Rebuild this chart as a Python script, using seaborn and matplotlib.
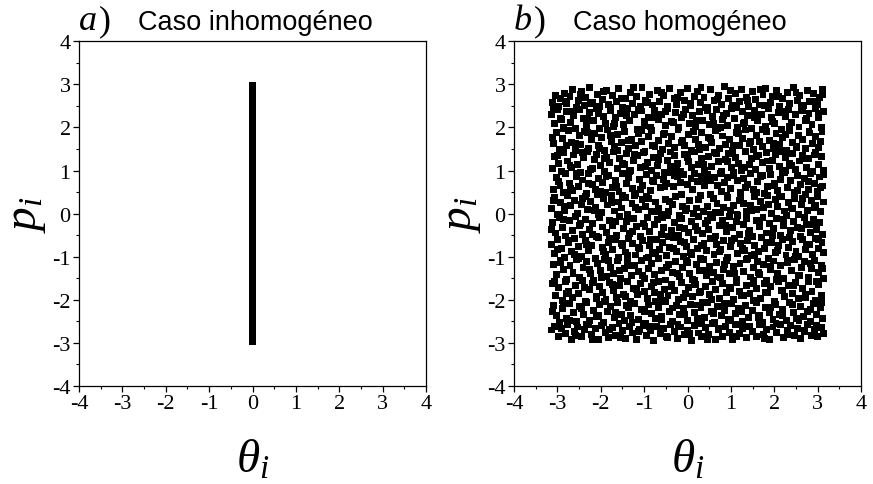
import matplotlib
matplotlib.use("Agg")
import matplotlib.pyplot as plt
import seaborn as sns
import pandas as pd
from matplotlib.ticker import MultipleLocator

# --- Data ---

# Panel a: all oscillators at theta = 0, momenta spread over [-3, 3]
p_a = [-2.97, -2.91, -2.84, -2.78, -2.70, -2.63, -2.57, -2.49, -2.42, -2.36,
       -2.28, -2.21, -2.15, -2.07, -2.00, -1.93, -1.86, -1.79, -1.72, -1.65,
       -1.58, -1.50, -1.44, -1.37, -1.29, -1.22, -1.15, -1.08, -1.01, -0.94,
       -0.87, -0.80, -0.72, -0.66, -0.58, -0.51, -0.44, -0.37, -0.29, -0.22,
       -0.15, -0.08, -0.01, 0.06, 0.13, 0.20, 0.27, 0.35, 0.42, 0.49,
       0.56, 0.63, 0.70, 0.77, 0.85, 0.92, 0.99, 1.06, 1.13, 1.20,
       1.27, 1.35, 1.42, 1.49, 1.56, 1.63, 1.70, 1.77, 1.84, 1.92,
       1.99, 2.06, 2.13, 2.20, 2.27, 2.34, 2.42, 2.49, 2.56, 2.63,
       2.70, 2.77, 2.84, 2.91, 2.97]
theta_a = [0.0] * len(p_a)

# Panel b: points in bands of p, as (theta, p)
band_a = [(-3.11,2.58),(-3.05,2.74),(-2.97,2.49),(-2.93,2.66),(-2.84,2.79),(-2.79,2.55),(-2.71,2.71),(-2.66,2.88),(-2.57,2.47),(-2.52,2.62),(-2.44,2.83),(-2.38,2.51),(-2.35,2.69),(-2.26,2.92),(-2.19,2.57),(-2.08,2.76),(-2.04,2.48),(-1.97,2.64),(-1.86,2.86),(-1.82,2.53),(-1.74,2.73),(-1.63,2.60),(-1.59,2.90),(-1.50,2.46),(-1.43,2.68),(-1.31,2.81),(-1.27,2.55),(-1.18,2.72),(-1.09,2.49),(-1.05,2.93),(-0.96,2.63),(-0.87,2.77),(-0.81,2.52),(-0.70,2.85),(-0.64,2.61),(-0.55,2.74),(-0.47,2.48),(-0.42,2.90),(-0.31,2.67),(-0.25,2.54),(-0.16,2.80),(-0.08,2.63),(0.01,2.91),(0.07,2.50),(0.15,2.72),(0.24,2.84),(0.29,2.58),(0.38,2.69),(0.47,2.47),(0.53,2.88),(0.61,2.62),(0.72,2.75),(0.78,2.53),(0.86,2.94),(0.95,2.66),(1.03,2.51),(1.10,2.79),(1.19,2.60),(1.24,2.87),(1.35,2.70),(1.41,2.48),(1.50,2.83),(1.57,2.64),(1.66,2.52),(1.74,2.76),(1.80,2.91),(1.91,2.58),(1.96,2.71),(2.05,2.86),(2.13,2.49),(2.20,2.67),(2.30,2.80),(2.36,2.55),(2.44,2.92),(2.53,2.63),(2.59,2.74),(2.68,2.50),(2.77,2.85),(2.82,2.61),(2.91,2.78),(2.99,2.53),(3.04,2.69),(3.11,2.88)]
band_b = [(-3.13,2.31),(-3.07,2.08),(-3.00,2.42),(-2.91,2.19),(-2.87,1.99),(-2.78,2.36),(-2.70,2.12),(-2.62,2.27),(-2.58,1.97),(-2.49,2.41),(-2.41,2.21),(-2.32,2.05),(-2.27,2.34),(-2.16,2.15),(-2.11,2.44),(-2.02,1.98),(-1.94,2.26),(-1.89,2.10),(-1.78,2.39),(-1.71,2.02),(-1.66,2.23),(-1.55,2.33),(-1.47,2.07),(-1.39,2.43),(-1.34,2.17),(-1.22,2.29),(-1.15,1.96),(-1.07,2.38),(-1.00,2.13),(-0.91,2.24),(-0.85,2.01),(-0.77,2.40),(-0.68,2.18),(-0.60,2.30),(-0.51,2.04),(-0.45,2.44),(-0.36,2.14),(-0.28,2.35),(-0.20,1.99),(-0.13,2.22),(-0.05,2.42),(0.04,2.09),(0.11,2.28),(0.19,2.02),(0.27,2.37),(0.34,2.16),(0.42,2.45),(0.50,2.06),(0.57,2.25),(0.66,2.41),(0.70,1.97),(0.80,2.19),(0.89,2.32),(0.93,2.05),(1.01,2.43),(1.08,2.20),(1.16,2.00),(1.26,2.36),(1.32,2.12),(1.39,2.27),(1.47,1.98),(1.55,2.39),(1.62,2.15),(1.70,2.31),(1.79,2.03),(1.86,2.44),(1.93,2.22),(2.01,2.08),(2.09,2.35),(2.17,1.96),(2.25,2.26),(2.33,2.42),(2.40,2.11),(2.48,2.29),(2.57,2.01),(2.64,2.38),(2.72,2.17),(2.80,2.33),(2.87,2.06),(2.95,2.43),(3.02,2.23),(3.09,1.99),(3.13,2.37)]
band_c = [(-3.10,1.62),(-3.03,1.88),(-2.95,1.49),(-2.89,1.74),(-2.80,1.57),(-2.74,1.93),(-2.67,1.66),(-2.59,1.46),(-2.50,1.81),(-2.46,1.60),(-2.37,1.91),(-2.29,1.52),(-2.22,1.71),(-2.14,1.85),(-2.06,1.58),(-1.99,1.77),(-1.91,1.47),(-1.84,1.94),(-1.76,1.68),(-1.69,1.55),(-1.61,1.83),(-1.53,1.64),(-1.45,1.90),(-1.37,1.50),(-1.29,1.73),(-1.21,1.59),(-1.13,1.86),(-1.06,1.67),(-0.98,1.45),(-0.90,1.79),(-0.83,1.92),(-0.75,1.56),(-0.66,1.70),(-0.58,1.48),(-0.53,1.87),(-0.43,1.63),(-0.37,1.78),(-0.29,1.53),(-0.22,1.95),(-0.12,1.69),(-0.06,1.57),(0.03,1.84),(0.10,1.46),(0.18,1.72),(0.26,1.61),(0.33,1.89),(0.41,1.54),(0.49,1.76),(0.56,1.65),(0.64,1.93),(0.73,1.51),(0.81,1.80),(0.87,1.60),(0.96,1.71),(1.04,1.47),(1.12,1.88),(1.20,1.58),(1.27,1.75),(1.34,1.94),(1.43,1.63),(1.51,1.49),(1.59,1.82),(1.65,1.67),(1.73,1.55),(1.82,1.90),(1.89,1.70),(1.97,1.52),(2.04,1.85),(2.12,1.61),(2.19,1.77),(2.28,1.46),(2.35,1.92),(2.42,1.66),(2.51,1.56),(2.56,1.81),(2.66,1.73),(2.73,1.50),(2.81,1.87),(2.89,1.62),(2.96,1.78),(3.03,1.54),(3.10,1.91)]
band_d = [(-3.12,1.05),(-3.06,1.33),(-2.98,1.17),(-2.90,0.98),(-2.85,1.41),(-2.76,1.22),(-2.68,1.08),(-2.63,1.36),(-2.53,1.13),(-2.47,0.96),(-2.39,1.29),(-2.30,1.44),(-2.24,1.02),(-2.15,1.25),(-2.09,1.38),(-2.00,1.11),(-1.92,0.97),(-1.87,1.31),(-1.79,1.19),(-1.70,1.43),(-1.62,1.04),(-1.56,1.27),(-1.46,1.14),(-1.40,1.39),(-1.32,0.99),(-1.24,1.23),(-1.16,1.35),(-1.08,1.07),(-1.01,1.42),(-0.93,1.18),(-0.84,1.01),(-0.79,1.30),(-0.69,1.12),(-0.62,1.40),(-0.54,0.96),(-0.46,1.24),(-0.39,1.09),(-0.30,1.34),(-0.23,1.16),(-0.15,0.98),(-0.07,1.37),(0.02,1.20),(0.09,1.06),(0.17,1.43),(0.25,1.15),(0.32,1.28),(0.40,1.00),(0.48,1.33),(0.55,1.10),(0.63,1.41),(0.71,1.21),(0.79,0.97),(0.88,1.26),(0.94,1.39),(1.02,1.08),(1.11,1.31),(1.18,1.17),(1.25,0.99),(1.33,1.44),(1.42,1.13),(1.48,1.27),(1.57,1.03),(1.64,1.36),(1.72,1.19),(1.81,1.42),(1.88,1.05),(1.95,1.24),(2.03,1.38),(2.11,1.10),(2.18,0.96),(2.26,1.30),(2.34,1.16),(2.43,1.40),(2.49,1.02),(2.58,1.22),(2.65,1.35),(2.75,1.07),(2.79,1.28),(2.88,0.98),(2.94,1.43),(3.01,1.14),(3.08,1.32),(3.14,1.01)]
band_e = [(-3.09,0.57),(-3.01,0.83),(-2.94,0.66),(-2.86,0.48),(-2.81,0.92),(-2.72,0.71),(-2.64,0.53),(-2.56,0.87),(-2.51,0.62),(-2.42,0.78),(-2.34,0.46),(-2.28,0.94),(-2.20,0.67),(-2.12,0.55),(-2.05,0.81),(-1.96,0.73),(-1.90,0.49),(-1.81,0.89),(-1.73,0.60),(-1.67,0.76),(-1.58,0.52),(-1.51,0.93),(-1.41,0.69),(-1.35,0.84),(-1.27,0.58),(-1.19,0.47),(-1.10,0.79),(-1.03,0.65),(-0.94,0.91),(-0.86,0.54),(-0.78,0.74),(-0.71,0.88),(-0.63,0.61),(-0.56,0.80),(-0.48,0.70),(-0.40,0.95),(-0.33,0.63),(-0.24,0.85),(-0.17,0.72),(-0.09,0.90),(0.00,0.68),(0.08,0.82),(0.16,0.93),(0.23,0.75),(0.31,0.86),(0.39,0.64),(0.46,0.91),(0.54,0.77),(0.62,0.84),(0.69,0.66),(0.77,0.94),(0.85,0.72),(0.92,0.83),(1.00,0.59),(1.07,0.89),(1.15,0.76),(1.23,0.50),(1.30,0.81),(1.38,0.68),(1.46,0.92),(1.53,0.56),(1.61,0.74),(1.68,0.86),(1.77,0.47),(1.84,0.63),(1.92,0.90),(2.00,0.71),(2.07,0.53),(2.15,0.80),(2.23,0.95),(2.31,0.60),(2.38,0.77),(2.46,0.49),(2.54,0.88),(2.61,0.67),(2.70,0.82),(2.78,0.55),(2.84,0.93),(2.92,0.70),(2.99,0.51),(3.05,0.85),(3.12,0.64)]
band_f = [(-3.13,0.12),(-3.06,0.38),(-2.99,-0.02),(-2.92,0.25),(-2.83,0.07),(-2.77,0.43),(-2.69,0.18),(-2.60,0.31),(-2.54,0.01),(-2.45,0.22),(-2.36,0.40),(-2.31,0.09),(-2.23,0.28),(-2.13,0.15),(-2.07,0.44),(-1.98,0.03),(-1.93,0.34),(-1.85,0.20),(-1.76,0.41),(-1.68,0.06),(-1.60,0.27),(-1.52,0.13),(-1.44,0.37),(-1.38,-0.03),(-1.28,0.23),(-1.22,0.42),(-1.14,0.10),(-1.05,0.32),(-0.97,0.16),(-0.89,0.36),(-0.82,0.04),(-0.74,0.27),(-0.67,0.12),(-0.59,-0.01),(-0.50,0.33),(-0.44,0.05),(-0.35,0.21),(-0.27,0.40),(-0.19,-0.04),(-0.11,0.17),(-0.04,0.06),(0.05,0.30),(0.13,0.00),(0.21,0.13),(0.30,0.42),(0.37,0.04),(0.45,0.16),(0.52,-0.02),(0.60,0.35),(0.68,0.23),(0.75,0.03),(0.83,0.15),(0.91,0.41),(0.98,0.07),(1.06,0.19),(1.14,-0.03),(1.22,0.34),(1.29,0.24),(1.37,0.05),(1.45,0.18),(1.54,0.39),(1.60,0.09),(1.69,0.29),(1.76,0.14),(1.85,0.43),(1.93,0.01),(2.02,0.33),(2.08,0.17),(2.16,0.40),(2.24,0.06),(2.32,0.26),(2.41,0.11),(2.47,0.36),(2.55,-0.01),(2.63,0.21),(2.71,0.44),(2.76,0.08),(2.86,0.30),(2.93,0.14),(3.00,0.39),(3.07,0.04),(3.13,0.27)]
band_g = [(-3.11,-0.21),(-3.04,-0.45),(-2.96,-0.10),(-2.88,-0.33),(-2.82,-0.52),(-2.73,-0.17),(-2.66,-0.40),(-2.58,-0.07),(-2.48,-0.28),(-2.43,-0.49),(-2.35,-0.13),(-2.26,-0.37),(-2.18,-0.24),(-2.10,-0.54),(-2.03,-0.09),(-1.95,-0.31),(-1.86,-0.44),(-1.80,-0.16),(-1.72,-0.27),(-1.64,-0.50),(-1.57,-0.06),(-1.48,-0.35),(-1.40,-0.19),(-1.33,-0.46),(-1.25,-0.11),(-1.17,-0.30),(-1.09,-0.53),(-1.02,-0.22),(-0.92,-0.08),(-0.87,-0.41),(-0.77,-0.26),(-0.70,-0.14),(-0.61,-0.48),(-0.55,-0.32),(-0.46,-0.05),(-0.38,-0.39),(-0.31,-0.20),(-0.21,-0.51),(-0.14,-0.12),(-0.06,-0.34),(0.03,-0.43),(0.10,-0.18),(0.19,-0.29),(0.26,-0.06),(0.35,-0.47),(0.41,-0.23),(0.49,-0.36),(0.58,-0.10),(0.65,-0.52),(0.73,-0.27),(0.81,-0.15),(0.89,-0.42),(0.96,-0.07),(1.04,-0.33),(1.12,-0.19),(1.19,-0.49),(1.28,-0.25),(1.35,-0.11),(1.43,-0.38),(1.50,-0.54),(1.58,-0.16),(1.66,-0.30),(1.74,-0.08),(1.82,-0.45),(1.89,-0.22),(1.98,-0.35),(2.05,-0.12),(2.14,-0.50),(2.21,-0.28),(2.29,-0.05),(2.37,-0.40),(2.44,-0.18),(2.53,-0.32),(2.60,-0.53),(2.69,-0.09),(2.75,-0.26),(2.84,-0.44),(2.90,-0.14),(2.98,-0.37),(3.05,-0.20),(3.11,-0.48)]
band_h = [(-3.14,-0.71),(-3.07,-0.93),(-2.99,-0.60),(-2.91,-0.82),(-2.84,-1.02),(-2.75,-0.67),(-2.67,-0.88),(-2.61,-0.58),(-2.52,-0.77),(-2.45,-0.99),(-2.36,-0.63),(-2.29,-0.85),(-2.21,-0.73),(-2.12,-1.04),(-2.06,-0.56),(-1.97,-0.79),(-1.89,-0.94),(-1.83,-0.66),(-1.74,-0.84),(-1.66,-0.61),(-1.59,-1.01),(-1.50,-0.75),(-1.42,-0.89),(-1.36,-0.57),(-1.26,-0.70),(-1.20,-0.96),(-1.11,-0.81),(-1.03,-0.62),(-0.95,-1.03),(-0.88,-0.74),(-0.80,-0.90),(-0.72,-0.59),(-0.64,-0.83),(-0.57,-0.68),(-0.49,-0.97),(-0.41,-0.78),(-0.32,-0.55),(-0.25,-0.87),(-0.17,-0.65),(-0.10,-1.00),(-0.02,-0.76),(0.06,-0.91),(0.14,-0.60),(0.22,-0.80),(0.29,-1.03),(0.38,-0.69),(0.44,-0.86),(0.53,-0.57),(0.61,-0.95),(0.67,-0.72),(0.76,-0.84),(0.84,-0.63),(0.92,-1.01),(0.99,-0.77),(1.08,-0.58),(1.16,-0.92),(1.23,-0.70),(1.31,-0.85),(1.39,-0.62),(1.47,-0.98),(1.55,-0.74),(1.63,-0.88),(1.71,-0.56),(1.78,-0.81),(1.87,-1.04),(1.94,-0.67),(2.02,-0.90),(2.10,-0.73),(2.18,-0.59),(2.27,-0.96),(2.33,-0.79),(2.42,-0.64),(2.50,-0.87),(2.57,-1.00),(2.66,-0.61),(2.73,-0.83),(2.81,-0.71),(2.88,-0.95),(2.96,-0.57),(3.03,-0.80),(3.10,-0.66)]
band_i = [(-3.09,-1.18),(-3.02,-1.42),(-2.94,-1.09),(-2.87,-1.30),(-2.79,-1.53),(-2.71,-1.21),(-2.64,-1.37),(-2.55,-1.07),(-2.50,-1.48),(-2.41,-1.26),(-2.33,-1.12),(-2.24,-1.40),(-2.17,-1.55),(-2.08,-1.16),(-2.01,-1.33),(-1.92,-1.06),(-1.87,-1.45),(-1.77,-1.24),(-1.70,-1.38),(-1.61,-1.10),(-1.54,-1.51),(-1.46,-1.28),(-1.38,-1.14),(-1.30,-1.43),(-1.23,-1.20),(-1.14,-1.35),(-1.06,-1.08),(-0.99,-1.50),(-0.90,-1.27),(-0.82,-1.16),(-0.76,-1.41),(-0.66,-1.05),(-0.60,-1.31),(-0.51,-1.54),(-0.43,-1.19),(-0.35,-1.36),(-0.28,-1.11),(-0.19,-1.46),(-0.12,-1.25),(-0.03,-1.08),(0.04,-1.39),(0.12,-1.52),(0.20,-1.17),(0.28,-1.32),(0.36,-1.06),(0.43,-1.44),(0.51,-1.22),(0.59,-1.37),(0.66,-1.13),(0.75,-1.49),(0.82,-1.29),(0.90,-1.09),(0.97,-1.40),(1.06,-1.23),(1.13,-1.53),(1.21,-1.15),(1.30,-1.34),(1.36,-1.07),(1.45,-1.47),(1.52,-1.26),(1.61,-1.11),(1.67,-1.42),(1.76,-1.19),(1.83,-1.55),(1.91,-1.30),(1.99,-1.10),(2.07,-1.38),(2.15,-1.21),(2.22,-1.50),(2.31,-1.14),(2.39,-1.33),(2.46,-1.06),(2.55,-1.44),(2.62,-1.24),(2.70,-1.12),(2.78,-1.47),(2.86,-1.28),(2.93,-1.09),(3.01,-1.36),(3.08,-1.20),(3.13,-1.51)]
band_j = [(-3.12,-1.63),(-3.05,-1.89),(-2.97,-1.71),(-2.89,-2.02),(-2.82,-1.58),(-2.74,-1.80),(-2.65,-1.95),(-2.59,-1.67),(-2.51,-1.85),(-2.43,-1.56),(-2.36,-2.04),(-2.27,-1.75),(-2.19,-1.61),(-2.11,-1.92),(-2.04,-1.70),(-1.95,-1.83),(-1.88,-2.00),(-1.79,-1.59),(-1.71,-1.78),(-1.63,-1.94),(-1.56,-1.66),(-1.47,-1.87),(-1.39,-1.57),(-1.32,-2.03),(-1.24,-1.73),(-1.15,-1.88),(-1.08,-1.62),(-1.00,-1.81),(-0.92,-1.97),(-0.84,-1.68),(-0.77,-1.84),(-0.68,-1.58),(-0.61,-2.01),(-0.53,-1.76),(-0.45,-1.90),(-0.36,-1.64),(-0.29,-1.79),(-0.20,-1.99),(-0.13,-1.60),(-0.05,-1.86),(0.02,-1.72),(0.11,-1.93),(0.18,-1.65),(0.27,-1.82),(0.34,-2.05),(0.42,-1.69),(0.50,-1.87),(0.57,-1.57),(0.65,-1.77),(0.74,-1.96),(0.80,-1.63),(0.89,-1.84),(0.97,-1.71),(1.05,-2.00),(1.12,-1.59),(1.20,-1.80),(1.29,-1.91),(1.37,-1.66),(1.44,-1.86),(1.53,-1.56),(1.60,-1.74),(1.69,-1.98),(1.77,-1.62),(1.85,-1.83),(1.92,-1.70),(2.01,-2.03),(2.09,-1.58),(2.17,-1.79),(2.24,-1.93),(2.32,-1.67),(2.41,-1.85),(2.48,-1.60),(2.56,-1.97),(2.64,-1.73),(2.72,-1.88),(2.79,-1.57),(2.87,-1.81),(2.95,-2.01),(3.03,-1.65),(3.09,-1.90)]
band_k = [(-3.10,-2.13),(-3.03,-2.37),(-2.95,-2.52),(-2.88,-2.20),(-2.80,-2.44),(-2.73,-2.08),(-2.63,-2.29),(-2.56,-2.50),(-2.49,-2.16),(-2.40,-2.34),(-2.34,-2.06),(-2.25,-2.47),(-2.16,-2.24),(-2.09,-2.39),(-2.02,-2.11),(-1.93,-2.53),(-1.85,-2.27),(-1.78,-2.15),(-1.69,-2.42),(-1.62,-2.07),(-1.53,-2.33),(-1.45,-2.49),(-1.37,-2.19),(-1.31,-2.36),(-1.22,-2.09),(-1.13,-2.45),(-1.07,-2.23),(-0.97,-2.54),(-0.91,-2.12),(-0.83,-2.31),(-0.74,-2.43),(-0.67,-2.17),(-0.59,-2.38),(-0.50,-2.05),(-0.42,-2.26),(-0.34,-2.51),(-0.26,-2.14),(-0.18,-2.35),(-0.09,-2.21),(-0.01,-2.48),(0.07,-2.10),(0.15,-2.30),(0.23,-2.44),(0.31,-2.18),(0.39,-2.40),(0.46,-2.06),(0.55,-2.28),(0.62,-2.52),(0.70,-2.16),(0.78,-2.37),(0.86,-2.24),(0.95,-2.46),(1.01,-2.08),(1.10,-2.32),(1.17,-2.19),(1.26,-2.50),(1.34,-2.13),(1.41,-2.41),(1.49,-2.25),(1.58,-2.07),(1.65,-2.36),(1.73,-2.53),(1.80,-2.17),(1.90,-2.29),(1.97,-2.45),(2.04,-2.11),(2.13,-2.34),(2.20,-2.22),(2.29,-2.49),(2.36,-2.06),(2.45,-2.30),(2.51,-2.43),(2.61,-2.15),(2.67,-2.38),(2.76,-2.26),(2.83,-2.51),(2.91,-2.09),(2.97,-2.33),(3.06,-2.18),(3.12,-2.44)]
band_l = [(-3.13,-2.70),(-3.06,-2.61),(-2.98,-2.84),(-2.90,-2.66),(-2.81,-2.78),(-2.76,-2.57),(-2.68,-2.91),(-2.60,-2.73),(-2.53,-2.63),(-2.44,-2.86),(-2.37,-2.69),(-2.28,-2.58),(-2.21,-2.80),(-2.13,-2.67),(-2.05,-2.93),(-1.98,-2.60),(-1.90,-2.76),(-1.82,-2.87),(-1.74,-2.64),(-1.67,-2.82),(-1.58,-2.56),(-1.51,-2.71),(-1.43,-2.89),(-1.34,-2.62),(-1.27,-2.77),(-1.18,-2.92),(-1.11,-2.68),(-1.02,-2.59),(-0.94,-2.83),(-0.86,-2.72),(-0.79,-2.94),(-0.71,-2.61),(-0.62,-2.79),(-0.55,-2.66),(-0.47,-2.88),(-0.39,-2.57),(-0.31,-2.74),(-0.24,-2.90),(-0.15,-2.63),(-0.07,-2.81),(0.01,-2.70),(0.09,-2.95),(0.17,-2.59),(0.25,-2.77),(0.32,-2.86),(0.41,-2.65),(0.48,-2.80),(0.57,-2.56),(0.64,-2.91),(0.72,-2.69),(0.80,-2.84),(0.88,-2.62),(0.96,-2.75),(1.03,-2.93),(1.11,-2.58),(1.19,-2.78),(1.27,-2.67),(1.35,-2.88),(1.43,-2.61),(1.50,-2.73),(1.59,-2.85),(1.66,-2.57),(1.75,-2.80),(1.82,-2.68),(1.90,-2.92),(1.97,-2.63),(2.06,-2.76),(2.14,-2.58),(2.22,-2.87),(2.30,-2.71),(2.37,-2.60),(2.46,-2.83),(2.54,-2.66),(2.61,-2.90),(2.69,-2.74),(2.77,-2.57),(2.85,-2.82),(2.93,-2.69),(3.00,-2.86),(3.08,-2.64),(3.14,-2.79)]
extra_1 = [(-3.08,2.47),(-2.93,2.21),(-2.81,2.60),(-2.62,2.38),(-2.47,2.76),(-2.31,2.18),(-2.23,2.55),(-2.06,2.33),(-1.93,2.84),(-1.77,2.46),(-1.69,2.09),(-1.52,2.67),(-1.41,2.28),(-1.25,2.92),(-1.12,2.41),(-0.99,2.04),(-0.92,2.58),(-0.74,2.22),(-0.59,2.82),(-0.50,2.36),(-0.33,2.12),(-0.23,2.70),(-0.10,2.30),(0.08,2.56),(0.20,2.15),(0.31,2.92),(0.46,2.40),(0.60,2.08),(0.69,2.65),(0.84,2.27),(1.00,2.86),(1.14,2.45),(1.29,2.10),(1.38,2.62),(1.54,2.24),(1.68,2.89),(1.78,2.50),(1.95,2.13),(2.09,2.71),(2.19,2.37),(2.34,2.03),(2.50,2.80),(2.63,2.46),(2.74,2.20),(2.90,2.59),(3.03,2.32),(3.12,2.76)]
extra_2 = [(-3.12,1.76),(-2.99,1.35),(-2.86,1.97),(-2.71,1.12),(-2.58,1.63),(-2.42,1.41),(-2.30,1.88),(-2.18,1.05),(-2.03,1.52),(-1.91,1.28),(-1.78,1.81),(-1.62,1.46),(-1.50,1.17),(-1.36,1.70),(-1.23,1.37),(-1.07,1.93),(-0.96,1.09),(-0.81,1.59),(-0.68,1.25),(-0.55,1.84),(-0.40,1.43),(-0.26,1.02),(-0.14,1.65),(0.00,1.31),(0.14,1.90),(0.28,1.48),(0.37,1.14),(0.52,1.74),(0.67,1.39),(0.77,1.99),(0.92,1.20),(1.06,1.57),(1.17,1.86),(1.31,1.08),(1.46,1.68),(1.58,1.33),(1.72,1.95),(1.85,1.22),(1.99,1.62),(2.11,1.45),(2.25,1.83),(2.39,1.11),(2.52,1.54),(2.67,1.27),(2.80,1.91),(2.93,1.36),(3.07,1.68)]
extra_3 = [(-3.10,0.31),(-2.97,0.74),(-2.84,0.17),(-2.70,0.58),(-2.55,0.93),(-2.43,0.36),(-2.29,0.69),(-2.15,0.08),(-2.01,0.52),(-1.88,0.85),(-1.75,0.26),(-1.63,0.64),(-1.49,0.42),(-1.33,0.97),(-1.21,0.15),(-1.08,0.56),(-0.95,0.39),(-0.80,0.76),(-0.69,0.05),(-0.52,0.62),(-0.42,0.28),(-0.29,0.89),(-0.13,0.45),(-0.02,0.12),(0.11,0.57),(0.26,0.33),(0.39,0.79),(0.53,0.44),(0.65,0.02),(0.79,0.51),(0.93,0.37),(1.05,0.96),(1.20,0.30),(1.33,0.61),(1.47,0.07),(1.60,0.48),(1.73,0.88),(1.86,0.22),(2.01,0.66),(2.12,0.40),(2.27,0.99),(2.40,0.13),(2.54,0.54),(2.65,0.34),(2.79,0.75),(2.94,0.19),(3.06,0.60),(3.14,0.91)]
extra_4 = [(-3.13,-0.37),(-3.00,-0.84),(-2.86,-0.14),(-2.74,-0.62),(-2.60,-0.95),(-2.46,-0.23),(-2.33,-0.72),(-2.20,-0.48),(-2.05,-0.02),(-1.93,-0.88),(-1.79,-0.57),(-1.66,-0.19),(-1.52,-0.69),(-1.39,-0.98),(-1.26,-0.41),(-1.12,-0.79),(-0.98,-0.29),(-0.85,-0.61),(-0.73,-0.92),(-0.58,-0.10),(-0.45,-0.53),(-0.32,-0.81),(-0.18,-0.33),(-0.06,-0.66),(0.09,-0.96),(0.22,-0.39),(0.33,-0.75),(0.47,-0.16),(0.62,-0.58),(0.73,-0.89),(0.87,-0.27),(1.01,-0.63),(1.15,-0.04),(1.26,-0.82),(1.41,-0.46),(1.55,-0.94),(1.67,-0.21),(1.81,-0.68),(1.95,-0.50),(2.08,-0.86),(2.22,-0.13),(2.35,-0.55),(2.49,-0.99),(2.62,-0.34),(2.75,-0.71),(2.89,-0.25),(3.02,-0.60),(3.13,-0.90)]
extra_5 = [(-3.06,-1.57),(-2.92,-1.14),(-2.78,-1.86),(-2.64,-1.39),(-2.51,-1.05),(-2.38,-1.71),(-2.25,-1.29),(-2.10,-1.97),(-1.98,-1.48),(-1.83,-1.09),(-1.72,-1.65),(-1.57,-1.33),(-1.44,-1.92),(-1.30,-1.20),(-1.17,-1.76),(-1.03,-1.44),(-0.89,-1.02),(-0.78,-1.60),(-0.63,-1.87),(-0.49,-1.25),(-0.38,-1.69),(-0.23,-1.38),(-0.09,-1.94),(0.01,-1.13),(0.16,-1.55),(0.30,-1.80),(0.44,-1.31),(0.56,-1.99),(0.69,-1.47),(0.85,-1.18),(0.98,-1.73),(1.09,-1.40),(1.24,-1.91),(1.38,-1.04),(1.52,-1.62),(1.63,-1.36),(1.79,-1.84),(1.92,-1.22),(2.05,-1.52),(2.19,-1.78),(2.30,-1.08),(2.45,-1.66),(2.58,-1.43),(2.71,-1.95),(2.84,-1.16),(2.98,-1.58),(3.11,-1.27)]
extra_6 = [(-3.11,-2.28),(-2.99,-2.62),(-2.86,-2.09),(-2.71,-2.47),(-2.59,-2.83),(-2.44,-2.21),(-2.32,-2.58),(-2.19,-2.91),(-2.06,-2.37),(-1.92,-2.04),(-1.80,-2.68),(-1.66,-2.30),(-1.54,-2.88),(-1.40,-2.14),(-1.28,-2.52),(-1.14,-2.73),(-1.00,-2.26),(-0.88,-2.61),(-0.73,-2.03),(-0.61,-2.45),(-0.48,-2.86),(-0.35,-2.19),(-0.22,-2.57),(-0.08,-2.35),(0.05,-2.79),(0.19,-2.12),(0.33,-2.54),(0.45,-2.93),(0.59,-2.31),(0.71,-2.66),(0.85,-2.08),(0.99,-2.49),(1.13,-2.84),(1.25,-2.27),(1.39,-2.62),(1.52,-2.02),(1.64,-2.42),(1.78,-2.90),(1.91,-2.17),(2.04,-2.56),(2.18,-2.36),(2.31,-2.81),(2.43,-2.11),(2.57,-2.48),(2.70,-2.70),(2.84,-2.23),(2.97,-2.59),(3.10,-2.06)]

bands_b = [band_a, band_b, band_c, band_d, band_e, band_f, band_g, band_h,
           band_i, band_j, band_k, band_l,
           extra_1, extra_2, extra_3, extra_4, extra_5, extra_6]

ticks = [-4, -3, -2, -1, 0, 1, 2, 3, 4]
titles = ["Caso inhomogéneo", "Caso homogéneo"]
letters = ["a", "b"]

df_a = pd.DataFrame({"theta": theta_a, "p": p_a})
df_b = pd.DataFrame([pt for band in bands_b for pt in band], columns=["theta", "p"])

# Style
sns.set_style("ticks")
plt.rcParams["font.family"] = ["Liberation Serif", "DejaVu Serif"]
plt.rcParams["mathtext.fontset"] = "custom"
plt.rcParams["mathtext.rm"] = "Liberation Serif"
plt.rcParams["mathtext.it"] = "Liberation Serif:italic"
plt.rcParams["axes.unicode_minus"] = False
plt.rcParams["text.color"] = "black"

fig = plt.figure(figsize=(8.73, 4.85), dpi=100)
ax_a = fig.add_axes([0.0905, 0.202, 0.3975, 0.711])
ax_b = fig.add_axes([0.5888, 0.202, 0.3975, 0.711])

sns.scatterplot(data=df_a, x="theta", y="p", ax=ax_a, marker="s", s=21,
                color="black", edgecolor="none", linewidth=0)
sns.scatterplot(data=df_b, x="theta", y="p", ax=ax_b, marker="s", s=25,
                color="black", edgecolor="none", linewidth=0)

for ax, letter, title in zip([ax_a, ax_b], letters, titles):
    ax.set_xlim(-4, 4)
    ax.set_ylim(-4, 4)
    ax.set_xticks(ticks)
    ax.set_yticks(ticks)
    ax.set_xticklabels([str(t) for t in ticks])
    ax.set_yticklabels([str(t) for t in ticks])
    ax.xaxis.set_minor_locator(MultipleLocator(0.5))
    ax.yaxis.set_minor_locator(MultipleLocator(0.5))
    ax.tick_params(which="major", direction="out", length=4, width=0.9,
                   labelsize=16, pad=2, colors="black")
    ax.tick_params(which="minor", direction="out", length=2.5, width=0.8,
                   colors="black")
    for sp in ax.spines.values():
        sp.set_visible(True)
        sp.set_linewidth(0.9)
        sp.set_color("black")
    ax.set_xlabel("")
    ax.set_ylabel("")
    ax.text(0.5, -0.215, r"$\theta_i$", transform=ax.transAxes,
            ha="center", va="center", fontsize=34, color="black")
    ax.text(-0.15, 0.5, r"$p_i$", transform=ax.transAxes, rotation=90,
            ha="center", va="center", fontsize=34, color="black")
    ax.text(0.0, 1.035, letter, transform=ax.transAxes, ha="left",
            va="baseline", fontsize=26, style="italic", color="black")
    ax.text(0.058, 1.035, ")", transform=ax.transAxes, ha="left",
            va="baseline", fontsize=26, color="black")
    ax.text(0.17, 1.035, title, transform=ax.transAxes, ha="left",
            va="baseline", fontsize=19.5, family="Liberation Sans",
            color="black")

fig.savefig("out.png", dpi=100)
